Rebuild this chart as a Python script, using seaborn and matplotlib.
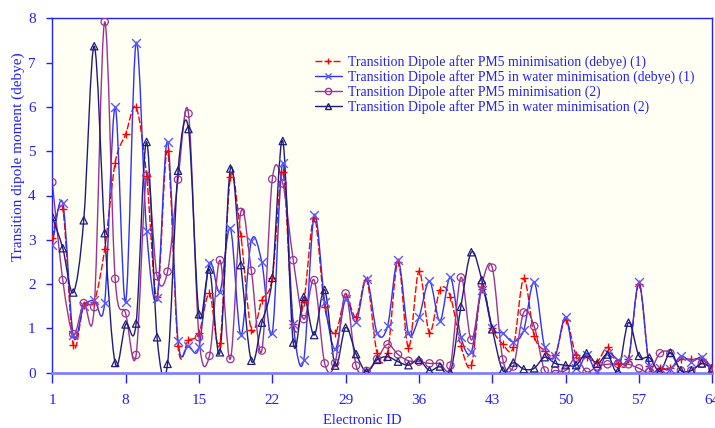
import numpy as np
import pandas as pd
import matplotlib
matplotlib.use("Agg")
import matplotlib.pyplot as plt
import seaborn as sns
from matplotlib.path import Path
from matplotlib.patches import PathPatch
from matplotlib.lines import Line2D

electronic_id = list(range(1, 65))

pm5_vac_1 = [3.05, 3.70, 0.62, 1.52, 1.60, 2.79, 4.74, 5.38, 5.99, 4.45,
             1.70, 5.00, 0.60, 0.74, 0.89, 1.79, 0.66, 4.42, 3.09, 0.96,
             1.64, 2.14, 4.52, 1.10, 1.60, 3.50, 1.48, 0.89, 1.70, 1.26,
             2.10, 0.45, 0.45, 2.50, 0.56, 2.30, 0.90, 1.87, 1.72, 0.61,
             0.17, 1.90, 1.00, 0.65, 0.57, 2.13, 0.83, 0.50, 0.40, 1.20,
             0.40, 0.35, 0.25, 0.57, 0.20, 0.30, 2.00, 0.15, 0.10, 0.10,
             0.30, 0.30, 0.30, 0.10]
pm5_water_1 = [2.88, 3.83, 0.84, 1.50, 1.64, 1.58, 5.99, 1.60, 7.45, 3.19,
               1.68, 5.21, 0.72, 0.61, 0.57, 2.47, 1.83, 3.26, 0.85, 2.98,
               2.49, 0.90, 4.73, 1.11, 0.29, 3.56, 1.60, 0.53, 1.66, 1.15,
               2.12, 0.90, 1.05, 2.54, 0.89, 1.25, 2.07, 1.17, 2.15, 0.81,
               0.47, 1.86, 1.00, 0.89, 0.70, 0.96, 2.04, 0.57, 0.38, 1.25,
               0.10, 0.40, 0.02, 0.45, 0.29, 0.31, 2.04, 0.14, 0.10, 0.08,
               0.37, 0.25, 0.35, 0.10]
pm5_vac_2 = [4.30, 2.09, 0.87, 1.57, 1.48, 7.92, 2.12, 1.34, 0.40, 4.45,
             2.18, 2.28, 4.36, 5.85, 0.80, 0.38, 2.54, 0.31, 3.63, 2.30,
             0.50, 4.37, 4.27, 2.54, 1.21, 2.09, 0.21, 0.22, 1.79, 0.16,
             0.04, 0.31, 0.64, 0.41, 0.27, 0.25, 0.21, 0.21, 0.16, 2.15,
             0.74, 2.00, 2.37, 0.30, 0.14, 1.36, 1.05, 0.05, 0.05, 0.05,
             0.34, 0.02, 0.14, 0.19, 0.20, 0.19, 0.10, 0.02, 0.44, 0.44,
             0.05, 0.05, 0.20, 0.10]
pm5_water_2 = [3.52, 2.81, 1.81, 3.44, 7.37, 3.15, 0.22, 1.09, 1.11, 5.21,
               0.80, 0.20, 4.56, 5.50, 1.32, 2.33, 0.46, 4.61, 2.43, 0.27,
               1.13, 2.14, 5.23, 0.68, 1.71, 0.85, 1.87, 0.16, 1.02, 0.42,
               0.02, 0.29, 0.36, 0.25, 0.17, 0.29, 0.05, 0.14, 0.00, 1.49,
               2.72, 2.09, 0.98, 0.05, 0.23, 0.08, 0.10, 0.35, 0.21, 0.17,
               0.17, 0.44, 0.20, 0.41, 0.03, 1.13, 0.38, 0.34, 0.03, 0.45,
               0.05, 0.05, 0.21, 0.10]

labels = ["Transition Dipole after PM5 minimisation (debye) (1)",
          "Transition Dipole after PM5 in water minimisation (debye) (1)",
          "Transition Dipole after PM5 minimisation (2)",
          "Transition Dipole after PM5 in water minimisation (2)"]
x_ticks = [1, 8, 15, 22, 29, 36, 43, 50, 57, 64]

series = [pm5_vac_1, pm5_water_1, pm5_vac_2, pm5_water_2]
line_colors = ["#ff0000", "#3030ff", "#993399", "#1c1c80"]
marker_colors = ["#ff0000", "#5a5aff", "#993399", "#1c1c80"]
markers = ["+", "x", "o", "^"]
styles = [(0, (5, 1.5)), "-", "-", "-"]

sns.set_style("white")
plt.rcParams["font.family"] = ["Liberation Serif", "DejaVu Serif"]

fig = plt.figure(figsize=(7.15, 4.28), dpi=100)
ax = fig.add_axes([52.3 / 715, 1 - 372.7 / 428, 660 / 715, 354.4 / 428])
ax.set_facecolor("#fffff3")


def smooth_path(xs, ys):
    pts = np.column_stack([xs, ys]).astype(float)
    n = len(pts)
    verts = [pts[0]]
    codes = [Path.MOVETO]
    for i in range(n - 1):
        p0 = pts[i - 1] if i > 0 else pts[i]
        p1 = pts[i]
        p2 = pts[i + 1]
        p3 = pts[i + 2] if i + 2 < n else pts[i + 1]
        c1 = p1 + (p2 - p0) / 6.0
        c2 = p2 - (p3 - p1) / 6.0
        verts += [c1, c2, p2]
        codes += [Path.CURVE4, Path.CURVE4, Path.CURVE4]
    return Path(verts, codes)


handles = []
for vals, lab, lc, mc, mk, ls in zip(series, labels, line_colors, marker_colors, markers, styles):
    patch = PathPatch(smooth_path(electronic_id, vals), fill=False, edgecolor=lc,
                      linewidth=1.0, linestyle=ls, transform=ax.transData, zorder=2)
    ax.add_patch(patch)
    df = pd.DataFrame({"id": electronic_id, "v": vals})
    if mk in ("+", "x"):
        sns.scatterplot(data=df, x="id", y="v", marker=mk, color=mc, s=40,
                        linewidth=1.0, ax=ax, zorder=3, legend=False)
    else:
        sns.scatterplot(data=df, x="id", y="v", marker=mk, s=28, facecolor="none",
                        edgecolor=mc, linewidth=0.9, ax=ax, zorder=3, legend=False)
    handles.append(Line2D([0], [0], color=lc, linestyle=ls, linewidth=1.0, marker=mk,
                          markersize=4.5, markerfacecolor="none", markeredgecolor=mc))

ax.set_xlim(1, 64)
ax.set_ylim(0, 8)
ax.set_xticks(x_ticks)
ax.set_yticks(range(0, 9))
ax.tick_params(axis="x", colors="#2020ff", labelsize=11, direction="out",
               length=7, width=1, pad=8, bottom=True, labelcolor="#2020ff")
ax.tick_params(axis="y", colors="#2020ff", labelsize=11, direction="out",
               length=4, width=1, pad=8, left=True, labelcolor="#2020ff")
for sp in ["left", "top", "right"]:
    ax.spines[sp].set_color("#2020ff")
    ax.spines[sp].set_linewidth(1.0)
ax.spines["bottom"].set_color("#8080ff")
ax.spines["bottom"].set_linewidth(2.0)

ax.set_xlabel("Electronic ID", color="#2020ff", fontsize=10.5, labelpad=8)
ax.xaxis.set_label_coords((362 - 52.3) / 660, -(421 - 372.7) / 354.4)
ax.xaxis.label.set_verticalalignment("center")
ax.set_ylabel("Transition dipole moment (debye)", color="#2020ff", fontsize=11)
ax.yaxis.set_label_coords(-(52.3 - 18) / 660, (372.7 - 157) / 354.4)
ax.yaxis.label.set_verticalalignment("center")

leg = ax.legend(handles, labels, loc="upper left", bbox_to_anchor=(305 / 715, 1 - 45 / 428),
                bbox_transform=fig.transFigure, frameon=False, fontsize=9.9,
                handlelength=2.0, handletextpad=0.4, labelspacing=0.08, borderpad=0.2)
for t in leg.get_texts():
    t.set_color("#2020ff")

fig.savefig("out.png", dpi=100)
